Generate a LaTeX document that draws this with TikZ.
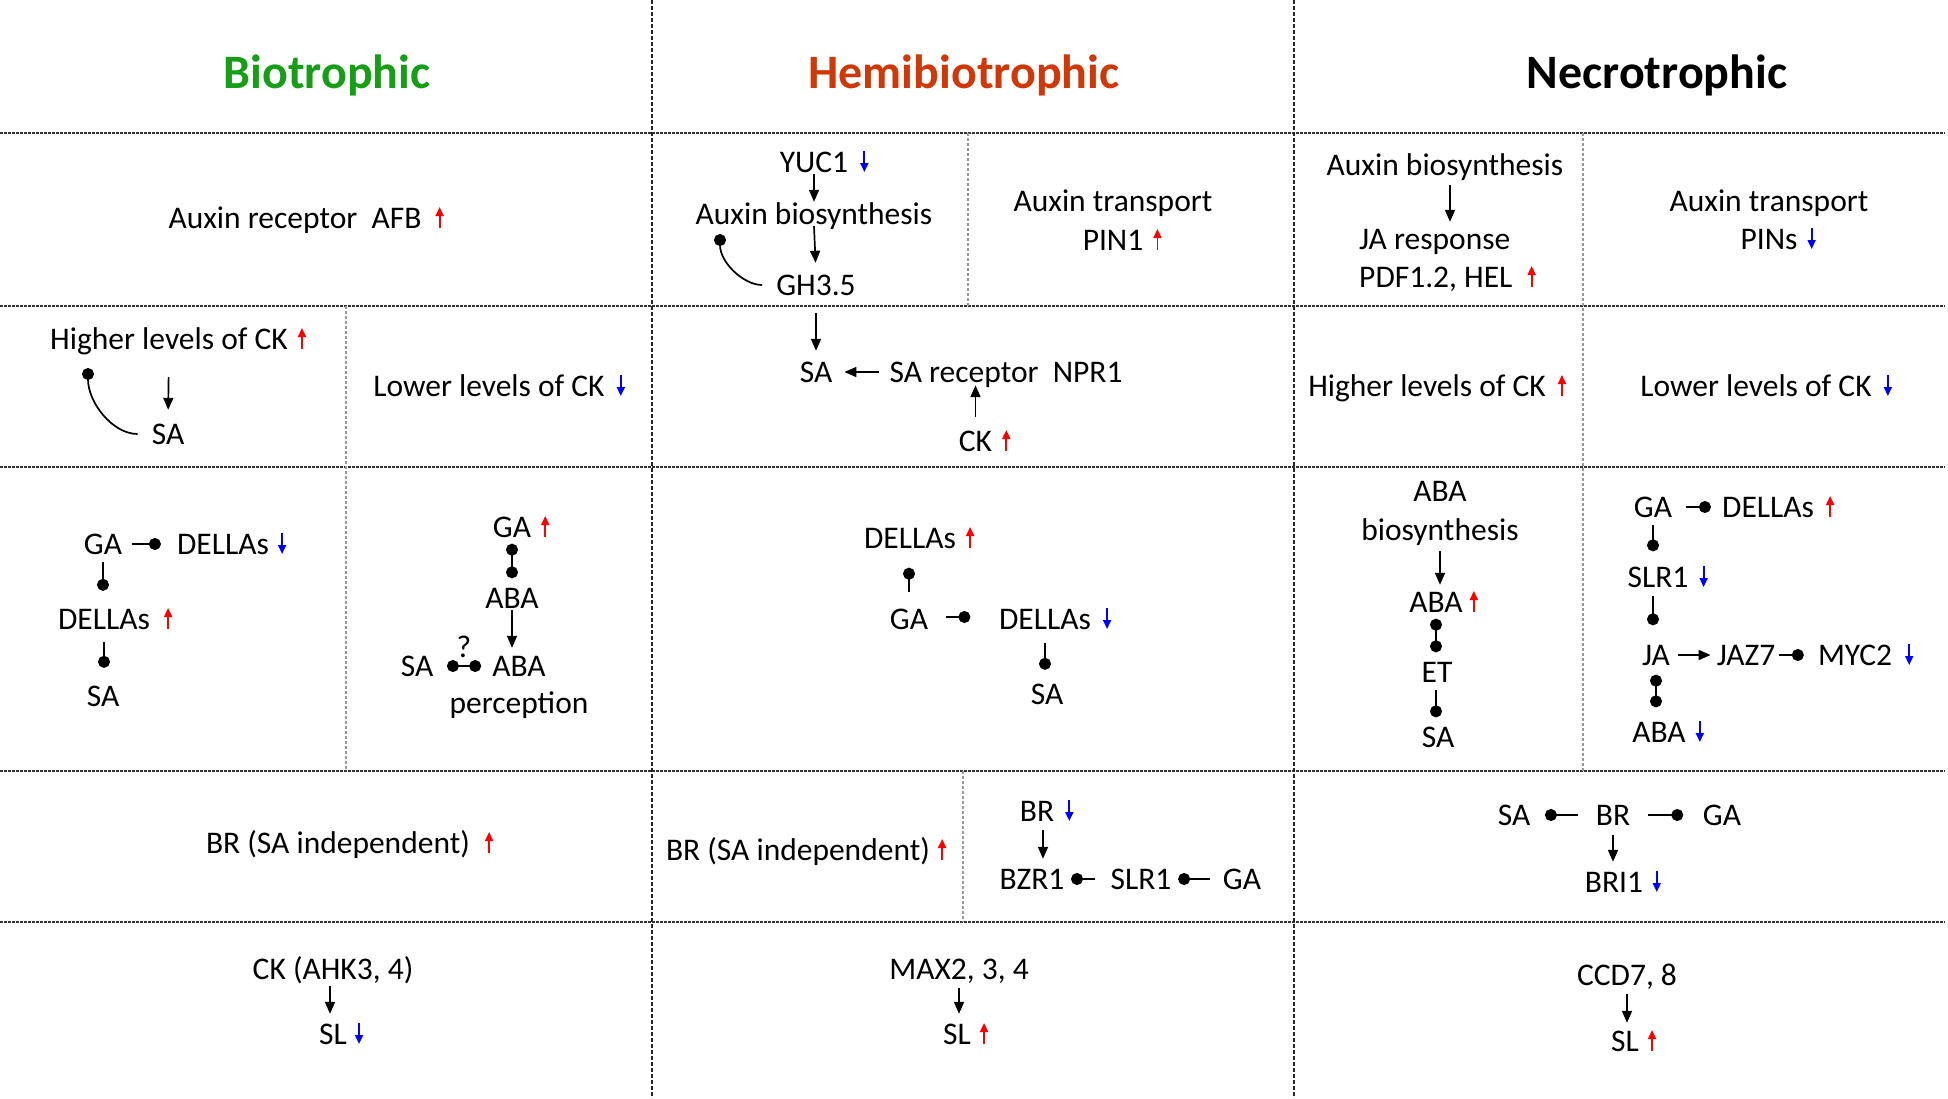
\documentclass[tikz,border=0pt]{standalone}
\usepackage{fontspec}
\setmainfont{Carlito}
\usetikzlibrary{arrows.meta}
\definecolor{biogreen}{RGB}{22,158,22}
\definecolor{hemiorange}{RGB}{208,56,8}
\definecolor{upred}{RGB}{255,0,0}
\definecolor{dnblue}{RGB}{0,0,255}
\newcommand\upi[2][10pt]{\draw[ind,upred] ([xshift=#1,yshift=-10pt]#2.east) -- ++(0,-21);}
\newcommand\dni[2][10pt]{\draw[ind,dnblue] ([xshift=#1,yshift=11pt]#2.east) -- ++(0,21);}
\begin{document}
\begin{tikzpicture}[x=1pt,y=-1pt,
  every node/.style={font=\fontsize{31.5}{36}\selectfont, text height=20pt, text depth=0pt, inner xsep=4pt, inner ysep=2pt},
  title/.style={font=\fontsize{48}{56}\selectfont\bfseries, text height=31pt},
  grid/.style={line width=2pt, black!80, dash pattern=on 2.5pt off 1.5pt},
  vgrid/.style={line width=1.4pt, black!85, dash pattern=on 4pt off 2pt},
  subgrid/.style={line width=1.2pt, black!40, dash pattern=on 3pt off 2pt},
  arr/.style={line width=1.7pt, -{Triangle[length=12pt,width=10pt]}},
  inh/.style={line width=1.7pt, -{Circle[length=12pt]}},
  dinh/.style={line width=1.7pt, {Circle[length=12pt]}-{Circle[length=12pt]}},
  ind/.style={line width=1.8pt, -{Triangle[length=9pt,width=8pt]}},
]
\useasboundingbox[fill=white] (0,0) rectangle (1948,1098);

% grid
\foreach \yy in {133,306,467,771,922} \draw[grid] (0,\yy) -- (1945,\yy);
\draw[vgrid] (652,0) -- (652,1098);
\draw[vgrid] (1294,0) -- (1294,1098);
\draw[subgrid] (968,133) -- (968,306);
\draw[subgrid] (1583,133) -- (1583,771);
\draw[subgrid] (346,306) -- (346,771);
\draw[subgrid] (963,771) -- (963,922);

% titles
\node[title, text=biogreen] (t1) at (327,73) {Biotrophic};
\node[title, text=hemiorange] (t2) at (964,73) {Hemibiotrophic};
\node[title] (t3) at (1657,73) {Necrotrophic};

% ---- row 1
\node (afb) at (295,218) {Auxin receptor\ \ AFB}; \upi[14pt]{afb}

\node (yuc) at (814,162) {YUC1}; \dni[12pt]{yuc}
\node (ab1) at (814,214) {Auxin biosynthesis};
\node (gh) at (816,285) {GH3.5};
\coordinate (cgh) at (720,234);
\draw[arr] (yuc.south) -- (ab1.north);
\draw[arr, shorten >=10pt] (ab1.south) -- (gh.north);
\draw[inh, shorten <=10pt] (gh.west) to[out=180,in=-90] (cgh);

\node (tr1) at (1113,201) {Auxin transport};
\node (pin1) at (1113,240) {PIN1}; \upi{pin1}

\node (ab2) at (1445,165) {Auxin biosynthesis};
\node[anchor=west] (jar) at (1355,239) {JA response};
\node[anchor=west] (pdf) at (1355,277) {PDF1.2, HEL}; \upi[15pt]{pdf}
\draw[arr, shorten <=8pt, shorten >=5pt] ([xshift=5pt]ab2.south) -- ([xshift=5pt]ab2.south |- jar.north);

\node (tr2) at (1769,201) {Auxin transport};
\node (pins) at (1769,239) {PINs}; \dni{pins}

% ---- row 2
\node (hl1) at (169,339) {Higher levels of CK}; \upi{hl1}
\node (sa1) at (168,434) {SA};
\coordinate (cd1) at (88,368);
\draw[arr, shorten <=26pt, shorten >=12pt] (hl1.south) -- (sa1.north);
\draw[inh, shorten <=10pt] (sa1.west) to[out=180,in=-90] (cd1);
\node (ll1) at (489,386) {Lower levels of CK}; \dni[12pt]{ll1}

\node (sa2) at (816,372) {SA};
\node (npr) at (1006,372) {SA receptor\ \ NPR1};
\node (ck2) at (975.5,441) {CK}; \upi{ck2}
\draw[arr, shorten <=16pt, shorten >=9pt] (gh.south) -- (sa2.north);
\draw[arr, shorten <=6pt, shorten >=8pt] (npr.west) -- (sa2.east);
\draw[arr, shorten <=12pt, shorten >=1pt] (ck2.north) -- (ck2.north |- npr.south);

\node (hl2) at (1427,386) {Higher levels of CK}; \upi[12pt]{hl2}
\node (ll2) at (1756,386) {Lower levels of CK}; \dni[12pt]{ll2}

% ---- row 3 biotrophic
\node (ga1) at (103,544) {GA};
\node (del1) at (223,544) {DELLAs}; \dni[9pt]{del1}
\node (del2) at (104,619) {DELLAs}; \upi[14pt]{del2}
\node (sa3) at (103,696) {SA};
\draw[inh, shorten <=6pt, shorten >=12pt] (ga1.east) -- (del1.west);
\draw[inh, shorten <=6pt, shorten >=16pt] (ga1.south) -- (ga1.south |- del2.north);
\draw[inh, shorten <=11pt, shorten >=16pt] (del2.south) -- (del2.south |- sa3.north);

\node (ga2) at (512,527) {GA}; \upi{ga2}
\node (aba1) at (512,598) {ABA};
\node (aba2) at (519,666) {ABA};
\node (perc) at (519,703) {perception};
\node (sa4) at (417,666) {SA};
\node (q) at (464,647) {?};
\draw[dinh, shorten <=4.5pt, shorten >=7.5pt] (ga2.south) -- (aba1.north);
\draw[arr, shorten >=6pt] (aba1.south) -- (aba1.south |- aba2.north);
\draw[dinh, shorten <=9.5pt, shorten >=7pt] (sa4.east) -- (sa4.east -| aba2.west);

% ---- row 3 hemibiotrophic
\node (del3) at (910,538) {DELLAs}; \upi{del3}
\node (ga3) at (909,619) {GA};
\node (del4) at (1045,619) {DELLAs}; \dni[12pt]{del4}
\node (sa5) at (1047,694) {SA};
\draw[inh, shorten <=15pt, shorten >=17.5pt] (ga3.north) -- (ga3.north |- del3.south);
\draw[inh, shorten <=13.5pt, shorten >=24.5pt] ([yshift=2pt]ga3.east) -- ([yshift=2pt]del4.west);
\draw[inh, shorten <=12pt, shorten >=12pt] (del4.south) -- (del4.south |- sa5.north);

% ---- row 3 necrotrophic left
\node (abab) at (1440,491) {ABA};
\node (bios) at (1440,530) {biosynthesis};
\node (aba3) at (1436,602) {ABA}; \upi[7pt]{aba3}
\node (et) at (1437,672) {ET};
\node (sa6) at (1438,737) {SA};
\draw[arr, shorten <=9pt, shorten >=5pt] (bios.south) -- (bios.south |- aba3.north);
\draw[dinh, shorten <=4.5pt, shorten >=7.5pt] (aba3.south) -- (aba3.south |- et.north);
\draw[inh, shorten <=6pt, shorten >=7.5pt] (aba3.south |- et.south) -- (aba3.south |- sa6.north);

% ---- row 3 necrotrophic right
\node (ga4) at (1653,507) {GA};
\node (del5) at (1768,507) {DELLAs}; \upi[12pt]{del5}
\node (slr) at (1658,577) {SLR1}; \dni[11pt]{slr}
\node (ja) at (1656,655) {JA};
\node (jaz) at (1746,655) {JAZ7};
\node (myc) at (1855,655) {MYC2}; \dni[13pt]{myc}
\node (aba4) at (1659,732) {ABA}; \dni[10pt]{aba4}
\draw[inh, shorten <=9.6pt, shorten >=7pt] (ga4.east) -- (del5.west);
\draw[inh, shorten <=6pt, shorten >=13.5pt] (ga4.south) -- (ga4.south |- slr.north);
\draw[inh, shorten <=7pt, shorten >=17.5pt] (ga4.south |- slr.south) -- (ga4.south |- ja.north);
\draw[arr, shorten <=4pt, shorten >=2pt] (ja.east) -- (jaz.west);
\draw[inh, shorten >=10pt] (jaz.east) -- (myc.west);
\draw[dinh, shorten <=7.5pt, shorten >=12.5pt] (ja.south) -- (ja.south |- aba4.north);

% ---- row 4
\node (br1) at (338,843) {BR (SA independent)}; \upi[15pt]{br1}
\node (br2) at (798,850) {BR (SA independent)}; \upi[8pt]{br2}

\node (br3) at (1037,811) {BR}; \dni[11pt]{br3}
\node (bzr) at (1032,879) {BZR1};
\node (slr2) at (1141,879) {SLR1};
\node (ga5) at (1242,879) {GA};
\draw[arr, shorten <=7pt, shorten >=8pt] ([xshift=6pt]br3.south) -- ([xshift=6pt]br3.south |- bzr.north);
\draw[inh, shorten <=11pt, shorten >=2.5pt] (slr2.west) -- (bzr.east);
\draw[inh, shorten <=8.6pt, shorten >=2.5pt] (ga5.west) -- (slr2.east);

\node (sa7) at (1514,815) {SA};
\node (br4) at (1613,815) {BR};
\node (ga6) at (1722,815) {GA};
\node (bri) at (1614,882) {BRI1}; \dni[9.5pt]{bri}
\draw[inh, shorten <=14pt, shorten >=10.5pt] (br4.west) -- (sa7.east);
\draw[inh, shorten <=14pt, shorten >=15.5pt] (br4.east) -- (ga6.west);
\draw[arr, shorten <=8pt, shorten >=8pt] (br4.south) -- (br4.south |- bri.north);

% ---- row 5
\node (ck5) at (333,969) {CK (AHK3, 4)};
\node (sl1) at (333,1034) {SL}; \dni[8pt]{sl1}
\draw[arr, shorten <=5pt, shorten >=8pt] ([xshift=-3pt]ck5.south) -- ([xshift=-3pt]ck5.south |- sl1.north);

\node (max) at (959,969) {MAX2, 3, 4};
\node (sl2) at (957,1034) {SL}; \upi[9pt]{sl2}
\draw[arr, shorten <=7pt, shorten >=8pt] (max.south) -- (max.south |- sl2.north);

\node (ccd) at (1627,975) {CCD7, 8};
\node (sl3) at (1625,1041) {SL}; \upi[9pt]{sl3}
\draw[arr, shorten <=7pt, shorten >=6pt] (ccd.south) -- (ccd.south |- sl3.north);
\end{tikzpicture}
\end{document}
